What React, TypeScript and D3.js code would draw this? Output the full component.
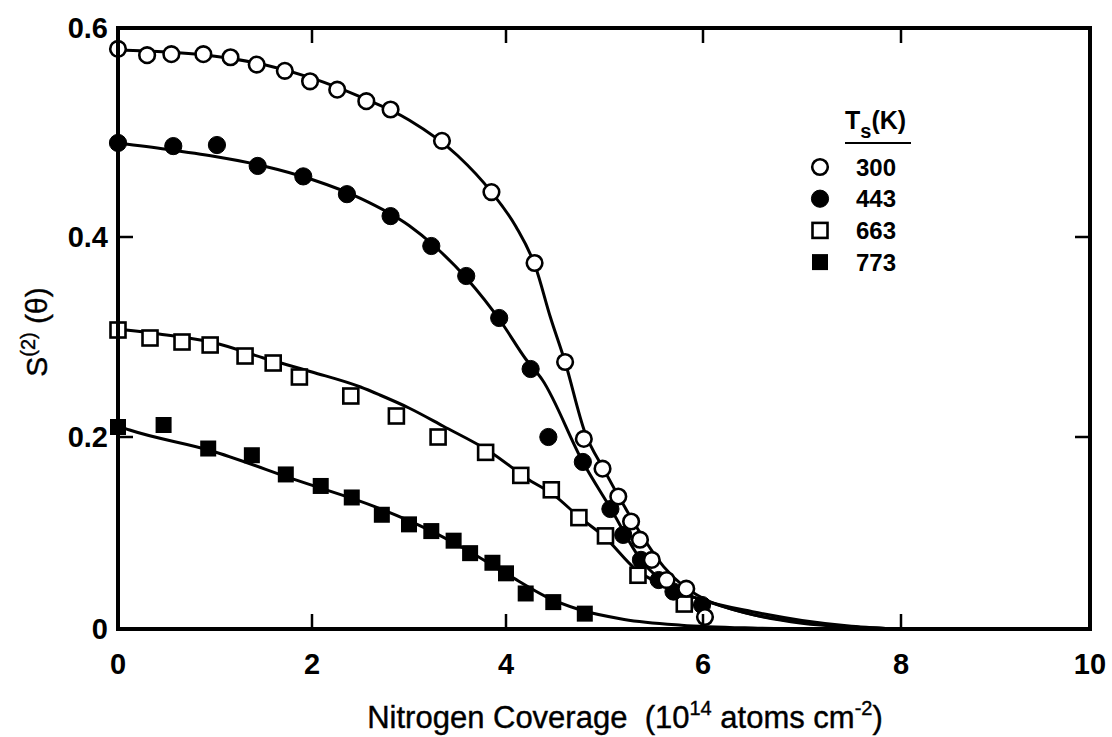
import React from "react";
import * as d3 from "d3";

// ---- axes ----
const xTicks = [0, 2, 4, 6, 8, 10];
const yTicks = [0, 0.2, 0.4, 0.6];
const yTickLabels = ["0", "0.2", "0.4", "0.6"];

// ---- measured points ----
const t300X = [0, 0.3, 0.55, 0.88, 1.16, 1.43, 1.72, 1.98, 2.26, 2.56, 2.81, 3.34, 3.85, 4.29, 4.6, 4.79, 4.98, 5.14, 5.27, 5.36, 5.48, 5.63, 5.83, 6.02];
const t300Y = [0.58, 0.574, 0.575, 0.575, 0.572, 0.565, 0.559, 0.549, 0.541, 0.53, 0.522, 0.492, 0.443, 0.374, 0.275, 0.198, 0.167, 0.138, 0.112, 0.093, 0.072, 0.051, 0.042, 0.0125];

const t443X = [0, 0.57, 1.02, 1.44, 1.91, 2.36, 2.81, 3.23, 3.59, 3.93, 4.25, 4.43, 4.78, 5.06, 5.19, 5.37, 5.55, 5.7, 5.99];
const t443Y = [0.49, 0.487, 0.488, 0.468, 0.458, 0.441, 0.42, 0.391, 0.361, 0.319, 0.268, 0.2, 0.174, 0.125, 0.098, 0.072, 0.051, 0.039, 0.025];

const t663X = [0, 0.33, 0.66, 0.95, 1.31, 1.6, 1.87, 2.4, 2.87, 3.3, 3.79, 4.15, 4.46, 4.74, 5.01, 5.34, 5.81];
const t663Y = [0.307, 0.299, 0.295, 0.292, 0.281, 0.274, 0.26, 0.241, 0.221, 0.2, 0.184, 0.16, 0.145, 0.116, 0.097, 0.056, 0.026];

const t773X = [0, 0.47, 0.93, 1.38, 1.73, 2.09, 2.41, 2.72, 3.0, 3.23, 3.46, 3.63, 3.86, 4.0, 4.2, 4.48, 4.8];
const t773Y = [0.21, 0.212, 0.188, 0.181, 0.161, 0.149, 0.137, 0.119, 0.109, 0.102, 0.092, 0.079, 0.069, 0.058, 0.037, 0.028, 0.016];

// ---- fitted curves (sampled from figure) ----
const fit300X = [0, 0.5, 1, 1.5, 2, 2.5, 3, 3.5, 3.85, 4.1, 4.3, 4.45, 4.6, 4.8, 5.0, 5.2, 5.4, 5.6, 5.8, 6.0, 6.5, 7.0, 7.5, 8.0];
const fit300Y = [0.579, 0.577, 0.573, 0.565, 0.552, 0.534, 0.512, 0.478, 0.443, 0.41, 0.37, 0.32, 0.275, 0.205, 0.165, 0.128, 0.094, 0.065, 0.045, 0.032, 0.015, 0.006, 0.002, 0];

const fit443X = [0, 0.5, 1, 1.5, 2, 2.5, 3, 3.25, 3.6, 3.95, 4.2, 4.37, 4.78, 5.06, 5.37, 5.7, 6.0, 6.5, 7.0, 7.5, 8.0];
const fit443Y = [0.49, 0.484, 0.477, 0.468, 0.455, 0.437, 0.411, 0.392, 0.358, 0.315, 0.278, 0.257, 0.174, 0.126, 0.072, 0.042, 0.03, 0.018, 0.009, 0.003, 0];

const fit663X = [0, 0.5, 1, 1.5, 2, 2.5, 2.7, 3.0, 3.35, 3.83, 4.24, 4.48, 4.74, 5.0, 5.32, 5.6, 6.0, 6.5, 7.0, 7.5, 8.0];
const fit663Y = [0.308, 0.302, 0.294, 0.279, 0.265, 0.25, 0.242, 0.229, 0.211, 0.185, 0.155, 0.14, 0.117, 0.096, 0.062, 0.045, 0.03, 0.015, 0.007, 0.002, 0];

const fit773X = [0, 0.12, 0.95, 1.84, 2.66, 3.21, 3.6, 4.06, 4.4, 4.75, 5.2, 5.78, 6.5, 7.2];
const fit773Y = [0.211, 0.207, 0.186, 0.155, 0.127, 0.103, 0.082, 0.054, 0.034, 0.02, 0.01, 0.004, 0.001, 0];

const legendLabels = ["300", "443", "663", "773"];

const FONT = "'Liberation Sans', Arial, Helvetica, sans-serif";

type Kind = "openCircle" | "filledCircle" | "openSquare" | "filledSquare";

const Marker = ({ kind, cx, cy }: { kind: Kind; cx: number; cy: number }) => {
  if (kind === "openCircle")
    return <circle cx={cx} cy={cy} r={7.8} fill="#fff" stroke="#000" strokeWidth={2.6} />;
  if (kind === "filledCircle")
    return <circle cx={cx} cy={cy} r={8.6} fill="#000" stroke="#000" strokeWidth={1} />;
  if (kind === "openSquare")
    return <rect x={cx - 7.5} y={cy - 7.5} width={15} height={15} fill="#fff" stroke="#000" strokeWidth={2.6} />;
  return <rect x={cx - 8} y={cy - 8} width={16} height={16} fill="#000" />;
};

export default function App() {
  const width = 1112;
  const height = 737;
  const x = d3.scaleLinear().domain([0, 2, 4, 6, 8, 10]).range([118, 312, 506, 703, 901, 1090]);
  const y = d3.scaleLinear().domain([0, 0.2, 0.4, 0.6]).range([629, 437, 237, 28]);

  const line = d3
    .line<[number, number]>()
    .x((d) => x(d[0]))
    .y((d) => y(d[1]))
    .curve(d3.curveMonotoneX);

  const zip = (a: number[], b: number[]) => a.map((v, i) => [v, b[i]] as [number, number]);

  const series: { kind: Kind; xs: number[]; ys: number[]; fx: number[]; fy: number[] }[] = [
    { kind: "filledSquare", xs: t773X, ys: t773Y, fx: fit773X, fy: fit773Y },
    { kind: "openSquare", xs: t663X, ys: t663Y, fx: fit663X, fy: fit663Y },
    { kind: "filledCircle", xs: t443X, ys: t443Y, fx: fit443X, fy: fit443Y },
    { kind: "openCircle", xs: t300X, ys: t300Y, fx: fit300X, fy: fit300Y },
  ];

  const x0 = x(0), x1 = x(10), y0 = y(0), y1 = y(0.6);
  const tickLen = 15;
  const legendKinds: Kind[] = ["openCircle", "filledCircle", "openSquare", "filledSquare"];

  return (
    <svg width={width} height={height} style={{ position: "absolute", left: 0, top: 0, background: "#fff" }}>
      <rect x={0} y={0} width={width} height={height} fill="#fff" />
      {/* curves */}
      {series.map((s, i) => (
        <path key={"c" + i} d={line(zip(s.fx, s.fy)) || ""} fill="none" stroke="#000" strokeWidth={3} />
      ))}
      {/* markers */}
      {series.map((s, i) =>
        s.xs.map((v, j) => <Marker key={`m${i}-${j}`} kind={s.kind} cx={x(v)} cy={y(s.ys[j])} />)
      )}
      {/* frame */}
      <rect x={x0} y={y1} width={x1 - x0} height={y0 - y1} fill="none" stroke="#000" strokeWidth={4} />
      {/* ticks */}
      {xTicks.slice(1, -1).map((t) => (
        <g key={"xt" + t}>
          <line x1={x(t)} x2={x(t)} y1={y0} y2={y0 - tickLen} stroke="#000" strokeWidth={2.5} />
          <line x1={x(t)} x2={x(t)} y1={y1} y2={y1 + tickLen} stroke="#000" strokeWidth={2.5} />
        </g>
      ))}
      {yTicks.slice(1, -1).map((t) => (
        <g key={"yt" + t}>
          <line x1={x0} x2={x0 + tickLen} y1={y(t)} y2={y(t)} stroke="#000" strokeWidth={2.5} />
          <line x1={x1} x2={x1 - tickLen} y1={y(t)} y2={y(t)} stroke="#000" strokeWidth={2.5} />
        </g>
      ))}
      {/* tick labels */}
      {xTicks.map((t) => (
        <text key={"xl" + t} x={x(t)} y={674} textAnchor="middle" fontFamily={FONT} fontSize={29} fontWeight="bold">
          {t}
        </text>
      ))}
      {yTicks.map((t, i) => (
        <text key={"yl" + t} x={108} y={y(t) + 10} textAnchor="end" fontFamily={FONT} fontSize={29} fontWeight="bold">
          {yTickLabels[i]}
        </text>
      ))}
      {/* axis titles */}
      <text x={625} y={728} textAnchor="middle" fontFamily={FONT} fontSize={31} stroke="#000" strokeWidth={0.4}>
        Nitrogen Coverage{"\u00a0\u00a0"}(10
        <tspan dy={-13} fontSize={20}>14</tspan>
        <tspan dy={13}> atoms cm</tspan>
        <tspan dy={-13} fontSize={20}>-2</tspan>
        <tspan dy={13}>)</tspan>
      </text>
      <text transform="translate(47,332) rotate(-90)" textAnchor="middle" fontFamily={FONT} fontSize={30} stroke="#000" strokeWidth={0.4}>
        S<tspan dy={-12} fontSize={20}>(2)</tspan>
        <tspan dy={12}>{"\u00a0"}(θ)</tspan>
      </text>
      {/* legend */}
      <text x={845} y={129} fontFamily={FONT} fontSize={25} fontWeight="bold">
        T<tspan dy={9} fontSize={20}>s</tspan>
        <tspan dy={-9}>(K)</tspan>
      </text>
      <line x1={845} x2={911} y1={143} y2={143} stroke="#000" strokeWidth={2} />
      {legendLabels.map((lab, i) => {
        const cy = 167 + i * 31.7;
        return (
          <g key={"lg" + lab}>
            <Marker kind={legendKinds[i]} cx={820} cy={cy} />
            <text x={856} y={cy + 8.5} fontFamily={FONT} fontSize={24} fontWeight="bold">
              {lab}
            </text>
          </g>
        );
      })}
    </svg>
  );
}
